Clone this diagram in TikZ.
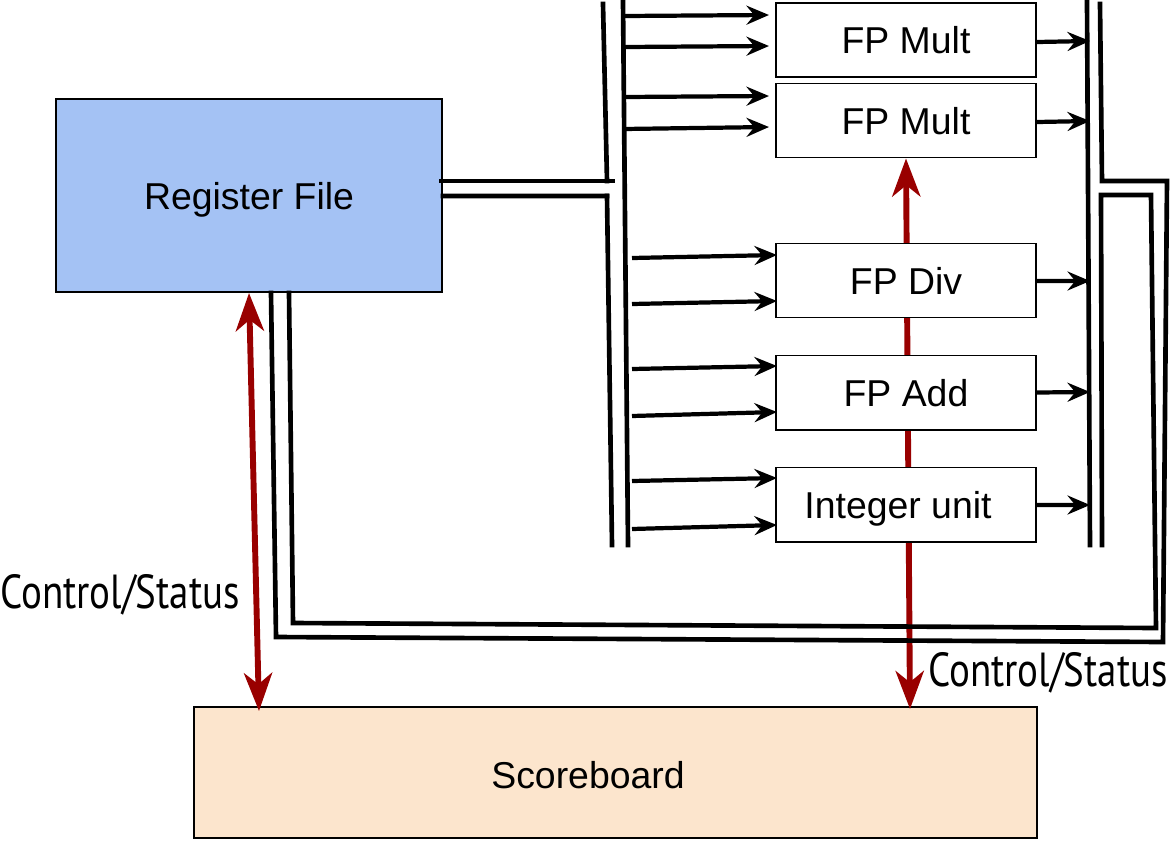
\documentclass[tikz,border=0pt]{standalone}
\usepackage{fontspec}
\setmainfont{Liberation Sans}
\newfontfamily\narrowfont[FakeStretch=0.815]{PT Sans}
\usepackage{tikz}
\usetikzlibrary{arrows.meta,calc,positioning}
\definecolor{regblue}{HTML}{A4C2F4}
\definecolor{scorepeach}{HTML}{FCE5CD}
\definecolor{ctrlred}{HTML}{990000}
\tikzset{
  unit/.style={
    shape = rectangle,
    draw,
    fill = white,
    line width = 1.4pt,
    inner sep = 0pt,
    minimum width = 6.5cm,
    minimum height = 1.85cm,
    text depth = 0pt,
    font = \fontsize{26.6}{31}\selectfont
  },
  bigbox/.style={
    shape = rectangle,
    draw,
    line width = 1.4pt,
    inner sep = 0pt
  },
  boxtext/.style={
    font = \fontsize{26.6}{31}\selectfont,
    text depth = 0pt,
    inner sep = 0pt
  },
  bus/.style={
    line width = 3.3pt,
    line cap = rect
  },
  feed/.style={
    line width = 3pt,
    -{Stealth[length=16pt, width=13.5pt, inset=5.5pt]}
  },
  ctrl/.style={
    ctrlred,
    line width = 4.2pt,
    {Stealth[length=27pt, width=20pt, inset=8pt]}-{Stealth[length=27pt, width=20pt, inset=8pt]}
  },
  status/.style={
    font = \narrowfont\fontsize{34}{40}\selectfont,
    inner sep = 0pt
  }
}
\begin{document}
\begin{tikzpicture}[x=0.025cm, y=-0.025cm]
        \useasboundingbox (0,0) rectangle (1172,843);

        \node[bigbox, fill=regblue, minimum width=9.65cm, minimum height=4.825cm, text depth=0pt, font=\fontsize{26.6}{31}\selectfont] (regfile) at (249,195.5) {Register File};
        \node[bigbox, fill=scorepeach, minimum width=21.075cm, minimum height=3.275cm] (score) at (615.5,772.5) {};
        \node[boxtext] (scoretext) at (588,775) {Scoreboard};

        \node[unit] (mult1) at (906,40) {FP Mult};
        \node[unit] (mult2) at (906,120.5) {FP Mult};

        % control line to the units, under the boxes
        \draw[ctrl] (mult2.south) -- ($(mult2.south |- score.north)+(4,3)$);

        \node[unit] (div) at (906,280.5) {FP Div};
        \node[unit] (add) at (906,392.5) {FP Add};
        \node[unit] (int) at (906,504.5) {\hspace*{-0.4cm}Integer unit};

        \draw[ctrl] (regfile.south) -- ($(regfile.south |- score.north)+(10,5)$);

        % left bus
        \draw[bus] (603,4) -- (607,181);
        \draw[bus] (607,196) -- (612,545);
        \draw[bus] (623,2) -- (628,545);
        \draw[bus] ($(regfile.east)+(-2,-14.5)$) -- (613,181);
        \draw[bus] ($(regfile.east)+(0,0.5)$) -- (607,196);

        % right bus and the return to the register file
        \draw[bus] (1087,2) -- (1090,545);
        \draw[bus] (1100,4) -- (1102,181) -- (1167,181) -- (1163,642) -- (276,637) -- ($(regfile.south)+(22,0)$);
        \draw[bus] (1102,545) -- (1101,195) -- (1151,195) -- (1156,628) -- (293,623) -- ($(regfile.south)+(40,0)$);

        \draw[feed] (624,16) -- ($(mult1.west)+(-6,-25)$);
        \draw[feed] (624,47) -- ($(mult1.west)+(-6,6)$);
        \draw[feed] (624,97) -- ($(mult2.west)+(-6,-24.5)$);
        \draw[feed] (624,129) -- ($(mult2.west)+(-6,6.5)$);
        \draw[feed] (632,258) -- ($(div.west)+(2,-25.5)$);
        \draw[feed] (632,304) -- ($(div.west)+(2,20.5)$);
        \draw[feed] (632,369) -- ($(add.west)+(2,-26.5)$);
        \draw[feed] (632,416) -- ($(add.west)+(2,19.5)$);
        \draw[feed] (632,481) -- ($(int.west)+(2,-26.5)$);
        \draw[feed] (632,529) -- ($(int.west)+(2,20.5)$);

        \draw[feed] ($(mult1.east)+(0,2)$) -- (1090,41);
        \draw[feed] ($(mult2.east)+(0,1.5)$) -- (1090,121);
        \draw[feed] ($(div.east)+(0,0.5)$) -- (1090,281);
        \draw[feed] (add.east) -- (1090,392);
        \draw[feed] ($(int.east)+(0,0.5)$) -- (1090,505);

        \node[status] (statusL) at (120,595) {Control/Status};
        \node[status] (statusR) at (1048,673) {Control/Status};
\end{tikzpicture}
\end{document}
